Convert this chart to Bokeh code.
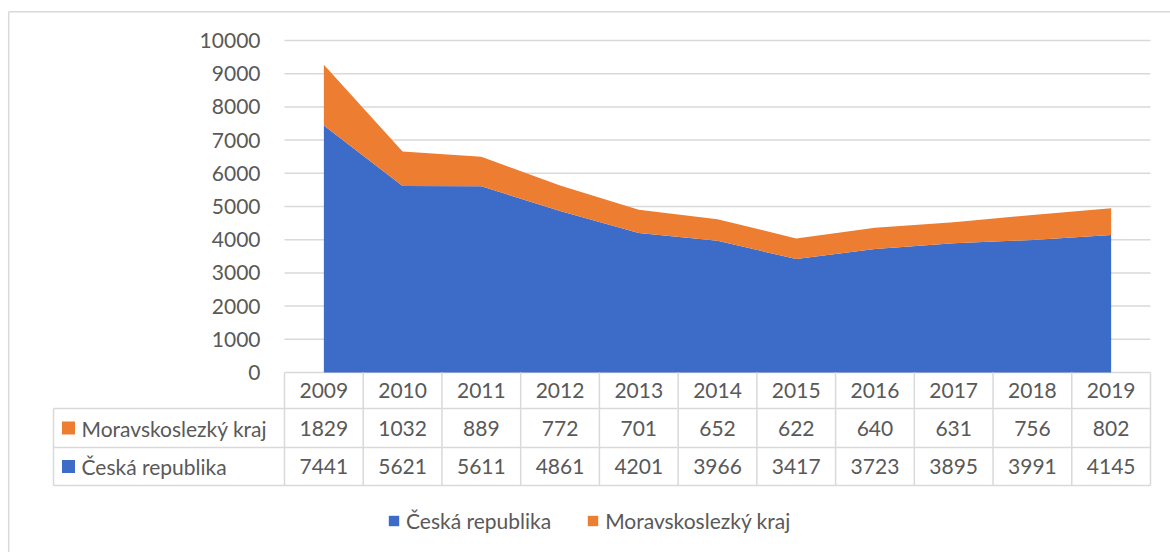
from bokeh.plotting import figure
from bokeh.models import Range1d, Legend, LegendItem
from bokeh.embed import file_html
from bokeh.resources import INLINE
from bokeh.core.properties import value

# ---- data ----
years = ["2009", "2010", "2011", "2012", "2013", "2014", "2015", "2016", "2017", "2018", "2019"]
ceska_republika = [7441, 5621, 5611, 4861, 4201, 3966, 3417, 3723, 3895, 3991, 4145]
moravskoslezky_kraj = [1829, 1032, 889, 772, 701, 652, 622, 640, 631, 756, 802]
series_names = ["Česká republika", "Moravskoslezký kraj"]
y_ticks = [0, 1000, 2000, 3000, 4000, 5000, 6000, 7000, 8000, 9000, 10000]

# ---- style ----
BLUE = "#3D6BC8"
ORANGE = "#ED7D31"
GRID = "#D9D9D9"
TXT = "#595959"
FONT = "Lato"
FS = "21px"

# ---- geometry (picture pixels) ----
W, H = 1170, 552
OX, OY = 0, 0
PL, PR = 284, 1150      # plot area left/right
PT, PB = 40, 372        # y of max tick / zero
YMAX = y_ticks[-1]
n = len(years)
xu = n / (PR - PL)               # data units per px (x)
yu = YMAX / (PB - PT)            # data units per px (y)
x_range = Range1d(0 - (PL - OX) * xu, n + (OX + W - PR) * xu)
y_range = Range1d(0 - (OY + H - PB) * yu, YMAX + (PT - OY) * yu)

p = figure(width=W, height=H, x_range=x_range, y_range=y_range,
           output_backend="svg", toolbar_location=None, min_border=0,
           x_axis_location=None, y_axis_location=None,
           outline_line_color=None, background_fill_color="white",
           border_fill_color="white")
p.grid.visible = False
p.extra_x_ranges = {"px": Range1d(OX, OX + W)}
p.extra_y_ranges = {"px": Range1d(OY + H, OY)}

# outer chart border (left + top)
p.segment(x0=[8.2, 8.2], y0=[11.3, 11.3], x1=[8.2, OX + W], y1=[OY + H, 11.3],
          line_color=GRID, line_width=1.5, x_range_name="px", y_range_name="px")

# gridlines
p.segment(x0=[0] * len(y_ticks), x1=[n] * len(y_ticks), y0=y_ticks, y1=y_ticks,
          line_color=GRID, line_width=1.5)

# y tick labels
p.text(x=[260] * len(y_ticks), y=y_ticks, text=[str(t) for t in y_ticks],
       x_range_name="px", text_align="right", text_baseline="middle",
       text_font=value(FONT), text_font_size=value(FS), text_color=TXT)

# stacked areas
xs = [i + 0.5 for i in range(n)]
top = [a + b for a, b in zip(ceska_republika, moravskoslezky_kraj)]
r_blue = p.varea(x=xs, y1=[0] * n, y2=ceska_republika, fill_color=BLUE)
r_orange = p.varea(x=xs, y1=ceska_republika, y2=top, fill_color=ORANGE)

# ---- data table ----
ROW_T = [372, 408, 447, 485]   # row boundaries (picture y)
TBL_L = 53
row_c = [(ROW_T[i] + ROW_T[i + 1]) / 2 for i in range(3)]

# vertical lines of value columns
p.segment(x0=list(range(n + 1)), x1=list(range(n + 1)),
          y0=[ROW_T[0]] * (n + 1), y1=[ROW_T[3]] * (n + 1),
          y_range_name="px", line_color=GRID, line_width=1.5)
# label column left line + horizontal lines
p.segment(x0=[TBL_L, TBL_L, TBL_L, TBL_L], x1=[TBL_L, PR, PR, PR],
          y0=[ROW_T[1], ROW_T[1], ROW_T[2], ROW_T[3]],
          y1=[ROW_T[3], ROW_T[1], ROW_T[2], ROW_T[3]],
          x_range_name="px", y_range_name="px", line_color=GRID, line_width=1.5)

tkw = dict(text_align="center", text_baseline="middle", y_range_name="px",
           text_font=value(FONT), text_font_size=value(FS), text_color=TXT)
p.text(x=xs, y=[row_c[0]] * n, text=years, **tkw)
p.text(x=xs, y=[row_c[1]] * n, text=[str(v) for v in moravskoslezky_kraj], **tkw)
p.text(x=xs, y=[row_c[2]] * n, text=[str(v) for v in ceska_republika], **tkw)

# row headers
p.rect(x=[68, 68], y=[row_c[1], row_c[2]], width=13, height=13,
       fill_color=[ORANGE, BLUE], line_color=None,
       x_range_name="px", y_range_name="px")
p.text(x=[81, 81], y=[row_c[1], row_c[2]], text=[series_names[1], series_names[0]],
       x_range_name="px", y_range_name="px", text_align="left", text_baseline="middle",
       text_font=value(FONT), text_font_size=value(FS), text_color=TXT)

# ---- legend ----
legend = Legend(items=[LegendItem(label=series_names[0], renderers=[r_blue]),
                       LegendItem(label=series_names[1], renderers=[r_orange])],
                orientation="horizontal", location=(387 - OX, 19),
                padding=0, margin=0, spacing=35, label_standoff=6,
                glyph_width=13, glyph_height=13,
                border_line_color=None, background_fill_alpha=0,
                label_text_font=FONT, label_text_font_size=FS,
                label_text_color=TXT)
p.add_layout(legend)

open("out.html", "w").write(file_html(p, INLINE))
